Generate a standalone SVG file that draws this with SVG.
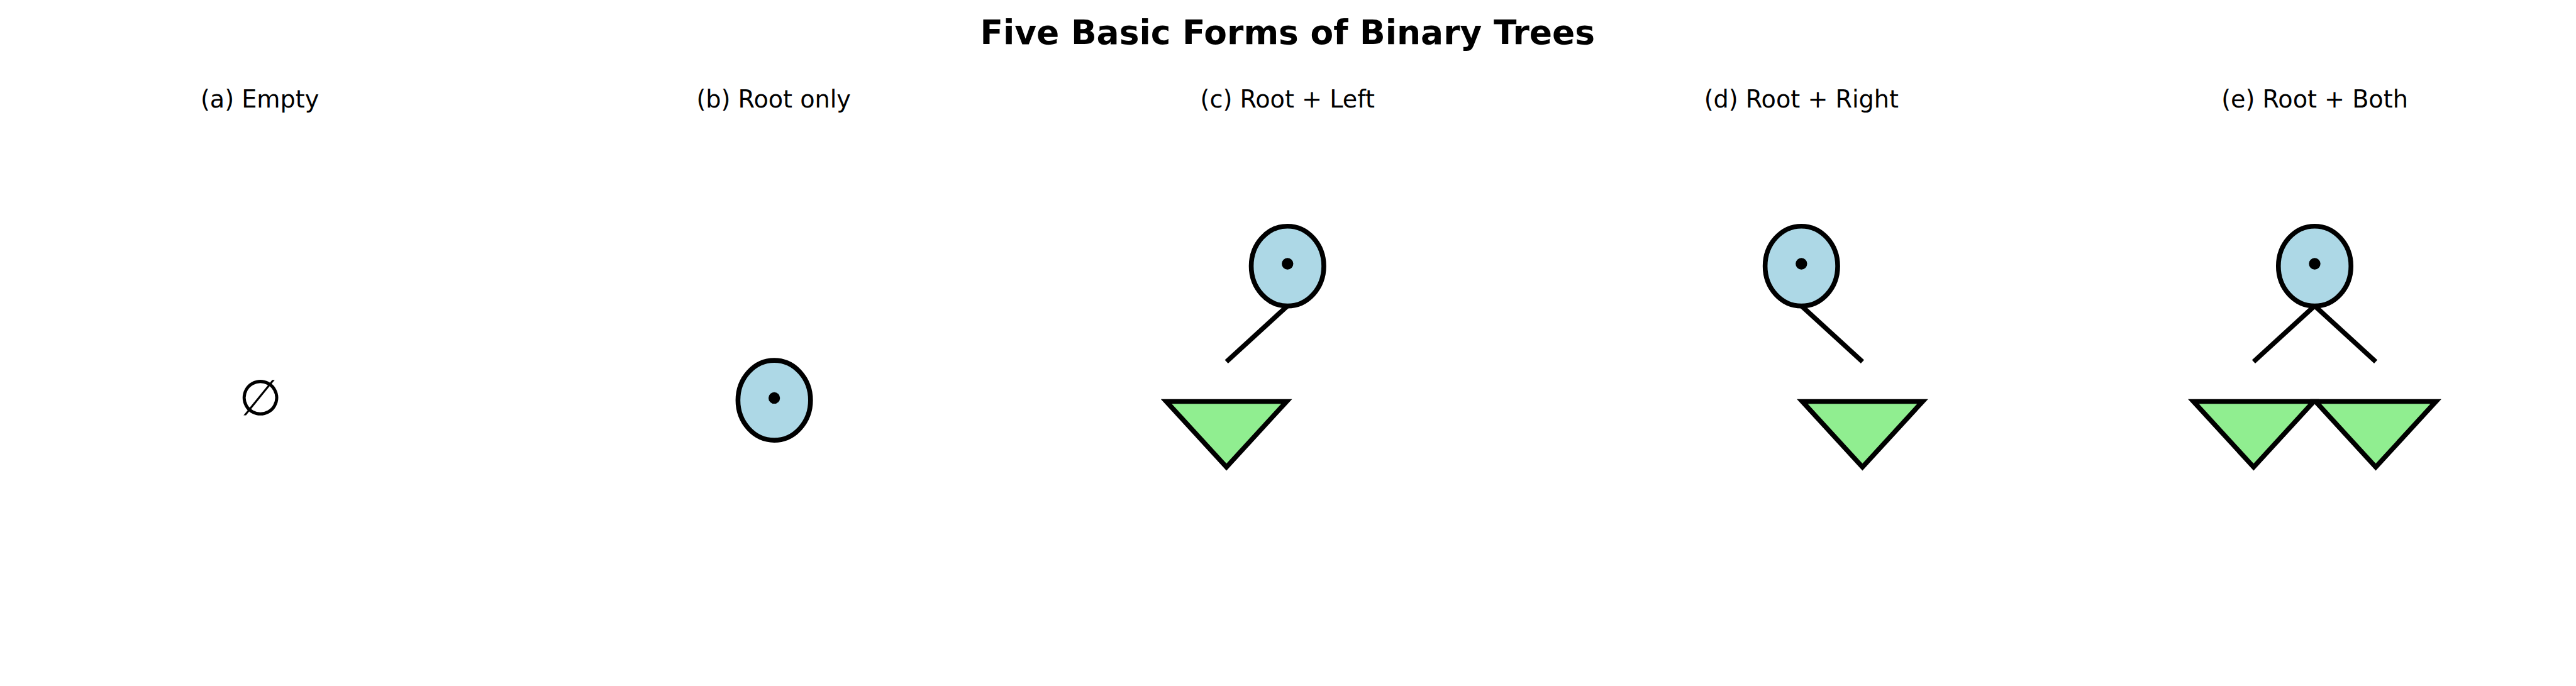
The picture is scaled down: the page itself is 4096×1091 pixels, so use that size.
<svg xmlns="http://www.w3.org/2000/svg" width="4096" height="1091" viewBox="0 0 4096 1091">
<style>
.title{font-family:"DejaVu Sans",sans-serif;font-weight:bold;font-size:58.33px;text-anchor:middle;fill:#000}
.sub{font-family:"DejaVu Sans",sans-serif;font-size:41.67px;text-anchor:middle;fill:#000}
.root{fill:#ADD8E6;stroke:#000;stroke-width:8.33}
.dot{fill:#000}
.sub-tree{fill:#90EE90;stroke:#000;stroke-width:8.33;stroke-linejoin:miter;stroke-miterlimit:10}
.edge{stroke:#000;stroke-width:8.33;fill:none;stroke-linecap:butt}
.empty{font-family:"DejaVu Sans",sans-serif;font-size:86px;text-anchor:middle;fill:#000}
</style>
<rect width="4096" height="1091" fill="#fff"/>
<g transform="scale(0.916)">
<text class="title" x="2235" y="76">Five Basic Forms of Binary Trees</text>
<g id="labels">
<text class="sub" x="451" y="187">(a) Empty</text>
<text class="sub" x="1343" y="187">(b) Root only</text>
<text class="sub" x="2235" y="187">(c) Root + Left</text>
<text class="sub" x="3127" y="187">(d) Root + Right</text>
<text class="sub" x="4018" y="187">(e) Root + Both</text>
</g>
<g id="connectors">
<line class="edge" x1="2235" y1="531" x2="2129" y2="628"/>
<line class="edge" x1="3127" y1="531" x2="3233" y2="628"/>
<line class="edge" x1="4018" y1="531" x2="3912" y2="628"/>
<line class="edge" x1="4018" y1="531" x2="4124" y2="628"/>
</g>
<g id="node-a">
<text class="empty" x="452" y="721">∅</text>
</g>
<g id="node-b">
<ellipse class="root" cx="1344" cy="695" rx="63" ry="69.3"/>
<circle class="dot" cx="1344" cy="691" r="10"/>
</g>
<g id="node-c">
<ellipse class="root" cx="2235" cy="462" rx="63" ry="69.3"/>
<circle class="dot" cx="2235" cy="458" r="10"/>
<polygon class="sub-tree" points="2024.5,697 2233.5,697 2129,811"/>
</g>
<g id="node-d">
<ellipse class="root" cx="3127" cy="462" rx="63" ry="69.3"/>
<circle class="dot" cx="3127" cy="458" r="10"/>
<polygon class="sub-tree" points="3128.5,697 3337.5,697 3233,811"/>
</g>
<g id="node-e">
<ellipse class="root" cx="4018" cy="462" rx="63" ry="69.3"/>
<circle class="dot" cx="4018" cy="458" r="10"/>
<polygon class="sub-tree" points="3807.5,697 4016.5,697 3912,811"/>
<polygon class="sub-tree" points="4019.5,697 4228.5,697 4124,811"/>
</g>
</g>
</svg>
